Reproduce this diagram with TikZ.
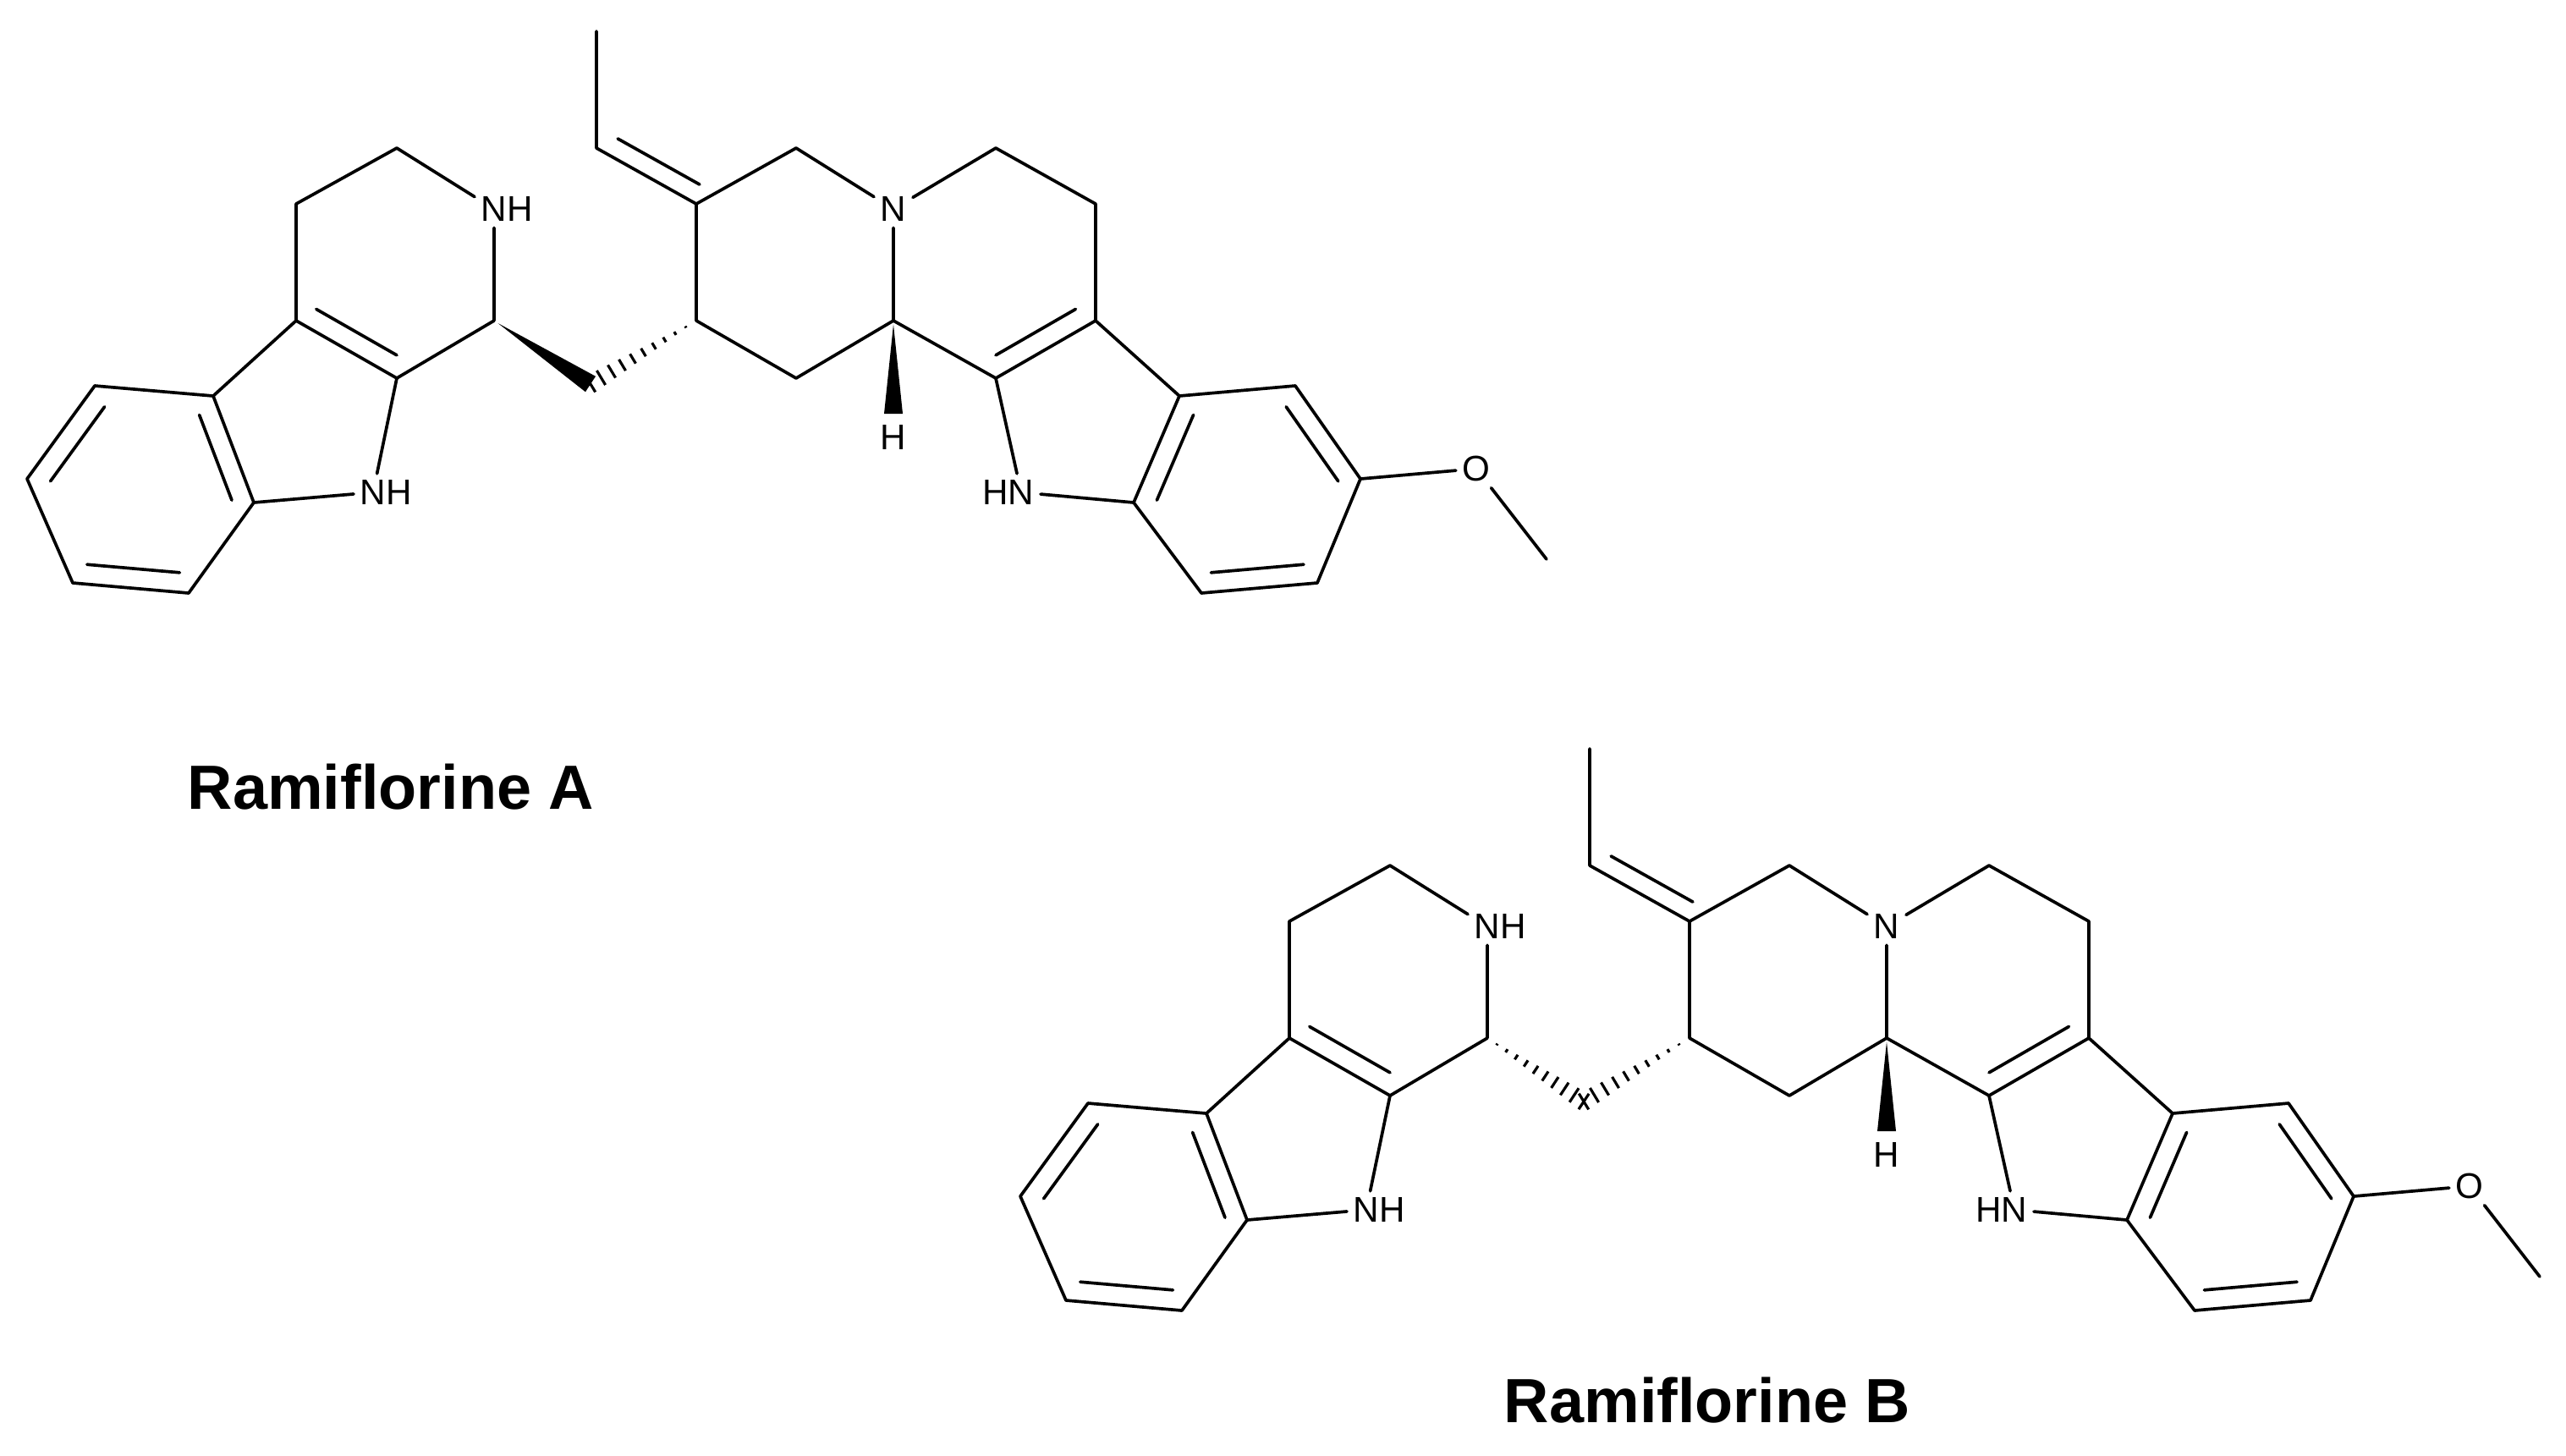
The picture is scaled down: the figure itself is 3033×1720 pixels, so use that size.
\documentclass[tikz,border=0pt]{standalone}
\usepackage{fontspec}
\setmainfont{Liberation Sans}
\usetikzlibrary{calc}
\tikzset{bond/.style={line width=1.05pt,line cap=round,line join=round},
 atom/.style={inner sep=2pt,font=\fontsize{12}{14}\selectfont},
 title/.style={font=\fontsize{21}{25}\selectfont\bfseries}}
\newcommand\dbl[3]{\draw[bond] ($(#1)!0.2!(#3)$) -- ($(#2)!0.2!(#3)$);}
\newcommand\hashb[2]{\foreach \t in {0.1,0.2,...,1.0}{\draw[line width=0.9pt] ($(#1)!\t!(#2)!{\t*0.11cm}!90:(#2)$) -- ($(#1)!\t!(#2)!{\t*0.11cm}!-90:(#2)$);}}
\newcommand\wedgeb[3]{\fill ($(#1)!0.04!(#2)$) -- ($(#2)!0.11cm!90:(#1)$) -- ($(#2)!0.11cm!-90:(#1)$) -- cycle;}
\newcommand\molecule[2]{%
 \coordinate (#1me) at (705,37);
 \coordinate (#1ch) at (705,175);
 \coordinate (#1c20) at (823,241);
 \coordinate (#1c21) at (941,175);
 \coordinate (#1c15) at (823,379);
 \coordinate (#1c14) at (941,447);
 \coordinate (#1br) at (698,454);
 \coordinate (#1c1) at (584,379);
 \node[atom] (#1n2) at (584,247) {N\rlap{H}};
 \coordinate (#1c3) at (469,175);
 \coordinate (#1c4) at (350,241);
 \coordinate (#1c4a) at (350,379);
 \coordinate (#1c9a) at (469,447);
 \node[atom] (#1n9) at (441,582) {N\rlap{H}};
 \coordinate (#1c8a) at (300,594);
 \coordinate (#1c4b) at (252,468);
 \coordinate (#1b1) at (112,456);
 \coordinate (#1b2) at (32,566);
 \coordinate (#1b3) at (86,689);
 \coordinate (#1b4) at (223,701);
 \coordinate (#1cL) at (170,580);
 \coordinate (#1cP) at (469,311);
 \node[atom] (#1n4) at (1056,247) {N};
 \coordinate (#1c5) at (1177,175);
 \coordinate (#1c6) at (1295,241);
 \coordinate (#1c7) at (1295,379);
 \coordinate (#1c3r) at (1056,379);
 \coordinate (#1c2r) at (1177,447);
 \node[atom] (#1h) at (1056,517) {H};
 \coordinate (#1hw) at (1056,489);
 \node[atom] (#1n1) at (1207,582) {\llap{H}N};
 \coordinate (#1c7a) at (1340,594);
 \coordinate (#1c3a) at (1394,468);
 \coordinate (#1r1) at (1531,456);
 \coordinate (#1r2) at (1608,566);
 \coordinate (#1r3) at (1557,689);
 \coordinate (#1r4) at (1420,701);
 \coordinate (#1cR) at (1477,580);
 \coordinate (#1cQ) at (1177,311);
 \node[atom] (#1o) at (1745,554) {O};
 \coordinate (#1ome) at (1828,661);
 % bonds
 \draw[bond] (#1me) -- (#1ch) -- (#1c20) -- (#1c21) -- (#1n4) -- (#1c5) -- (#1c6) -- (#1c7) -- (#1c3a) -- (#1r1) -- (#1r2) -- (#1r3) -- (#1r4) -- (#1c7a) -- (#1c3a);
 \draw[bond] (#1c20) -- (#1c15) -- (#1c14) -- (#1c3r) -- (#1n4);
 \draw[bond] (#1c3r) -- (#1c2r) -- (#1c7) ;
 \draw[bond] (#1c2r) -- (#1n1) -- (#1c7a);
 \draw[bond] (#1r2) -- (#1o) -- (#1ome);
 \draw[bond] (#1c1) -- (#1n2) -- (#1c3) -- (#1c4) -- (#1c4a) -- (#1c9a) -- (#1c1);
 \draw[bond] (#1c9a) -- (#1n9) -- (#1c8a) -- (#1c4b) -- (#1c4a);
 \draw[bond] (#1c4b) -- (#1b1) -- (#1b2) -- (#1b3) -- (#1b4) -- (#1c8a);
 \draw[bond] ($(#1ch)!0.12!(#1c20)+(11,-19)$) -- ($(#1c20)!0.06!(#1ch)+(11,-19)$);
 \dbl{#1c4a}{#1c9a}{#1cP}
 \dbl{#1c2r}{#1c7}{#1cQ}
 \dbl{#1b1}{#1b2}{#1cL}\dbl{#1b3}{#1b4}{#1cL}\dbl{#1c4b}{#1c8a}{#1cL}
 \dbl{#1r1}{#1r2}{#1cR}\dbl{#1r3}{#1r4}{#1cR}\dbl{#1c3a}{#1c7a}{#1cR}
 \wedgeb{#1c3r}{#1hw}{}
 \hashb{#1c15}{#1br}
 \ifnum#2=1 \wedgeb{#1c1}{#1br}{}\else\hashb{#1c1}{#1br}\fi
}
\begin{document}
\begin{tikzpicture}[x=0.01cm,y=-0.01cm]
\useasboundingbox (0,0) rectangle (3033,1720);
\molecule{a}{1}
\begin{scope}[shift={(1174,848)}]
\molecule{b}{2}
\end{scope}
\node[title] (ta) at (462,930) {Ramiflorine A};
\node[title] (tb) at (2018,1655) {Ramiflorine B};
\end{tikzpicture}
\end{document}
